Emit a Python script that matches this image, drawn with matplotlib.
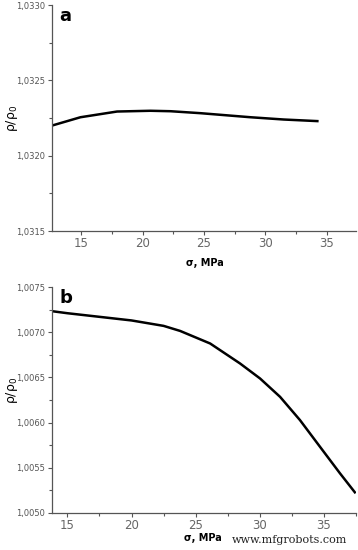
import matplotlib
matplotlib.use("Agg")
import matplotlib.pyplot as plt
from matplotlib.ticker import FuncFormatter, MultipleLocator

# Panel a data
sigma_a = [12.61, 14.92, 17.91, 20.63, 22.27, 24.71, 28.80, 31.49, 34.35]
rho_a = [1.03220, 1.032255, 1.032293, 1.032298, 1.032295, 1.032282, 1.032255, 1.032240, 1.032229]

# Panel b data
sigma_b = [13.83, 15.0, 17.5, 20.0, 22.5, 23.79, 26.13, 28.46, 30.02, 31.58, 33.13, 34.69, 36.25, 37.47]
rho_b = [1.007232, 1.00721, 1.00717, 1.00713, 1.00707, 1.007014, 1.006875, 1.006654, 1.006488,
         1.006285, 1.006028, 1.005733, 1.005439, 1.005218]

panel_labels = ["a", "b"]
ylims = [(1.0315, 1.0330), (1.0050, 1.0075)]
xlims = [(12.6, 37.4), (13.8, 37.5)]
xlabel = "σ, MPa"
ylabel = "ρ/ρ$_0$"

fig = plt.figure(figsize=(3.58, 5.50), dpi=100)
W, H = 358, 550
boxes = [(52, 5, 356, 231), (52, 287, 356, 513)]
ylabel_y = [118, 390]
xlabel_pos = [(205, 263), (203, 538)]

fmt = FuncFormatter(lambda v, p: f"{v:.4f}".replace(".", ","))
gray = "#555555"

for i, (x, y) in enumerate([(sigma_a, rho_a), (sigma_b, rho_b)]):
    l, t, r, b = boxes[i]
    ax = fig.add_axes([l / W, 1 - b / H, (r - l) / W, (b - t) / H])
    ax.plot(x, y, color="black", lw=1.8, solid_capstyle="butt", solid_joinstyle="round")
    ax.set_xlim(*xlims[i])
    ax.set_ylim(*ylims[i])
    for s in ["top", "right"]:
        ax.spines[s].set_visible(False)
    for s in ["left", "bottom"]:
        ax.spines[s].set_color(gray)
        ax.spines[s].set_linewidth(0.9)
    ax.xaxis.set_major_locator(MultipleLocator(5))
    ax.xaxis.set_minor_locator(MultipleLocator(2.5))
    ax.yaxis.set_major_locator(MultipleLocator(0.0005))
    ax.yaxis.set_minor_locator(MultipleLocator(0.00025))
    ax.yaxis.set_major_formatter(fmt)
    ax.tick_params(axis="both", which="major", direction="out", length=3, width=0.8, color=gray)
    ax.tick_params(axis="both", which="minor", direction="out", length=2, width=0.8, color=gray)
    ax.tick_params(axis="x", labelsize=8.5, labelcolor="#666666", pad=1.5)
    ax.tick_params(axis="y", labelsize=6, labelcolor="#555555", pad=2)
    ax.text(0.025, 0.99, panel_labels[i], transform=ax.transAxes, fontsize=13,
            fontweight="bold", va="top", ha="left")
    ax.set_ylabel(ylabel, fontsize=9)
    ax.yaxis.set_label_coords((12 - l) / (r - l), (b - ylabel_y[i]) / (b - t))
    ax.yaxis.label.set_va("center")
    ax.set_xlabel(xlabel, fontsize=7, fontweight="bold")
    xl, yl = xlabel_pos[i]
    ax.xaxis.set_label_coords((xl - l) / (r - l), (b - yl) / (b - t))
    ax.xaxis.label.set_va("center")

fig.text(347 / W, 1 - 540 / H, "www.mfgrobots.com", ha="right", va="center",
         fontsize=8, family="DejaVu Serif", color="#222222")

fig.savefig("out.png", dpi=100)
